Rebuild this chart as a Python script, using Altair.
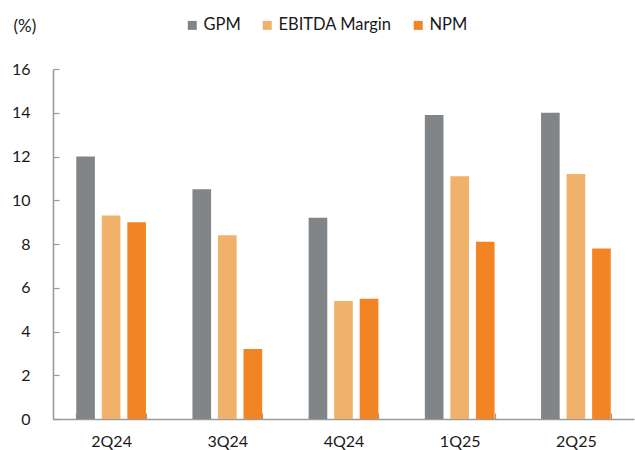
import altair as alt
import pandas as pd

# Quarterly margin figures (%)
quarters = ["2Q24", "3Q24", "4Q24", "1Q25", "2Q25"]
series = ["GPM", "EBITDA Margin", "NPM"]
gpm = [12.0, 10.5, 9.2, 13.9, 14.0]
ebitda_margin = [9.3, 8.4, 5.4, 11.1, 11.2]
npm = [9.0, 3.2, 5.5, 8.1, 7.8]
colors = ["#828588", "#F0B26B", "#F38424"]
y_ticks = [0, 2, 4, 6, 8, 10, 12, 14, 16]

rows = []
for name, vals in zip(series, [gpm, ebitda_margin, npm]):
    for q, v in zip(quarters, vals):
        rows.append({"quarter": q, "series": name, "value": v})
df = pd.DataFrame(rows)

AXIS_GRAY = "#9B9B9B"
TEXT = "#1A1A1A"
FONT = "Lato"
PLOT_W, PLOT_H = 581, 350
TICK_LEN = 6

chart = (
    alt.Chart(df)
    .mark_bar()
    .encode(
        x=alt.X(
            "quarter:N",
            sort=quarters,
            scale=alt.Scale(paddingInner=0.4, paddingOuter=0.2),
            axis=alt.Axis(
                title=None,
                labelAngle=0,
                labelFontSize=16,
                labelColor=TEXT,
                labelPadding=14,
                tickBand="extent",
                ticks=False,
                tickSize=0,
                # short inward ticks at the category boundaries, drawn as
                # dashed grid lines that only show their last few pixels
                grid=True,
                gridDash=[0, PLOT_H - TICK_LEN, TICK_LEN, 2000],
                gridColor=AXIS_GRAY,
                gridWidth=1.2,
                domainColor=AXIS_GRAY,
                domainWidth=1.6,
            ),
        ),
        xOffset=alt.XOffset(
            "series:N",
            sort=series,
            scale=alt.Scale(paddingInner=0.27, paddingOuter=0),
        ),
        y=alt.Y(
            "value:Q",
            scale=alt.Scale(domain=[0, 16], nice=False),
            axis=alt.Axis(
                values=y_ticks,
                title="(%)",
                titleAngle=0,
                titleX=-40,
                titleY=-43,
                titleAlign="left",
                titleBaseline="middle",
                titleFontSize=17,
                titleFontWeight="normal",
                titleColor=TEXT,
                labelFontSize=16,
                labelColor=TEXT,
                labelPadding=23,
                ticks=False,
                tickSize=0,
                # inward ticks on the value axis
                grid=True,
                gridDash=[TICK_LEN, 2000],
                gridColor=AXIS_GRAY,
                gridWidth=1.2,
                domainColor=AXIS_GRAY,
                domainWidth=1.6,
            ),
        ),
        color=alt.Color(
            "series:N",
            sort=series,
            scale=alt.Scale(domain=series, range=colors),
            legend=alt.Legend(
                title=None,
                orient="none",
                direction="horizontal",
                legendX=131,
                legendY=-52,
                symbolType="square",
                symbolSize=81,
                symbolStrokeWidth=0,
                symbolOpacity=1,
                labelFontSize=16.5,
                labelColor=TEXT,
                labelOffset=3,
                columnPadding=18,
                padding=0,
            ),
        ),
    )
    .properties(
        width=PLOT_W,
        height=PLOT_H,
        autosize="none",
        padding={"left": 53, "top": 69, "right": 1, "bottom": 31},
    )
    .configure(font=FONT)
    .configure_view(stroke=None)
)

chart.save("out.html", embed_options={"renderer": "svg", "actions": False})
